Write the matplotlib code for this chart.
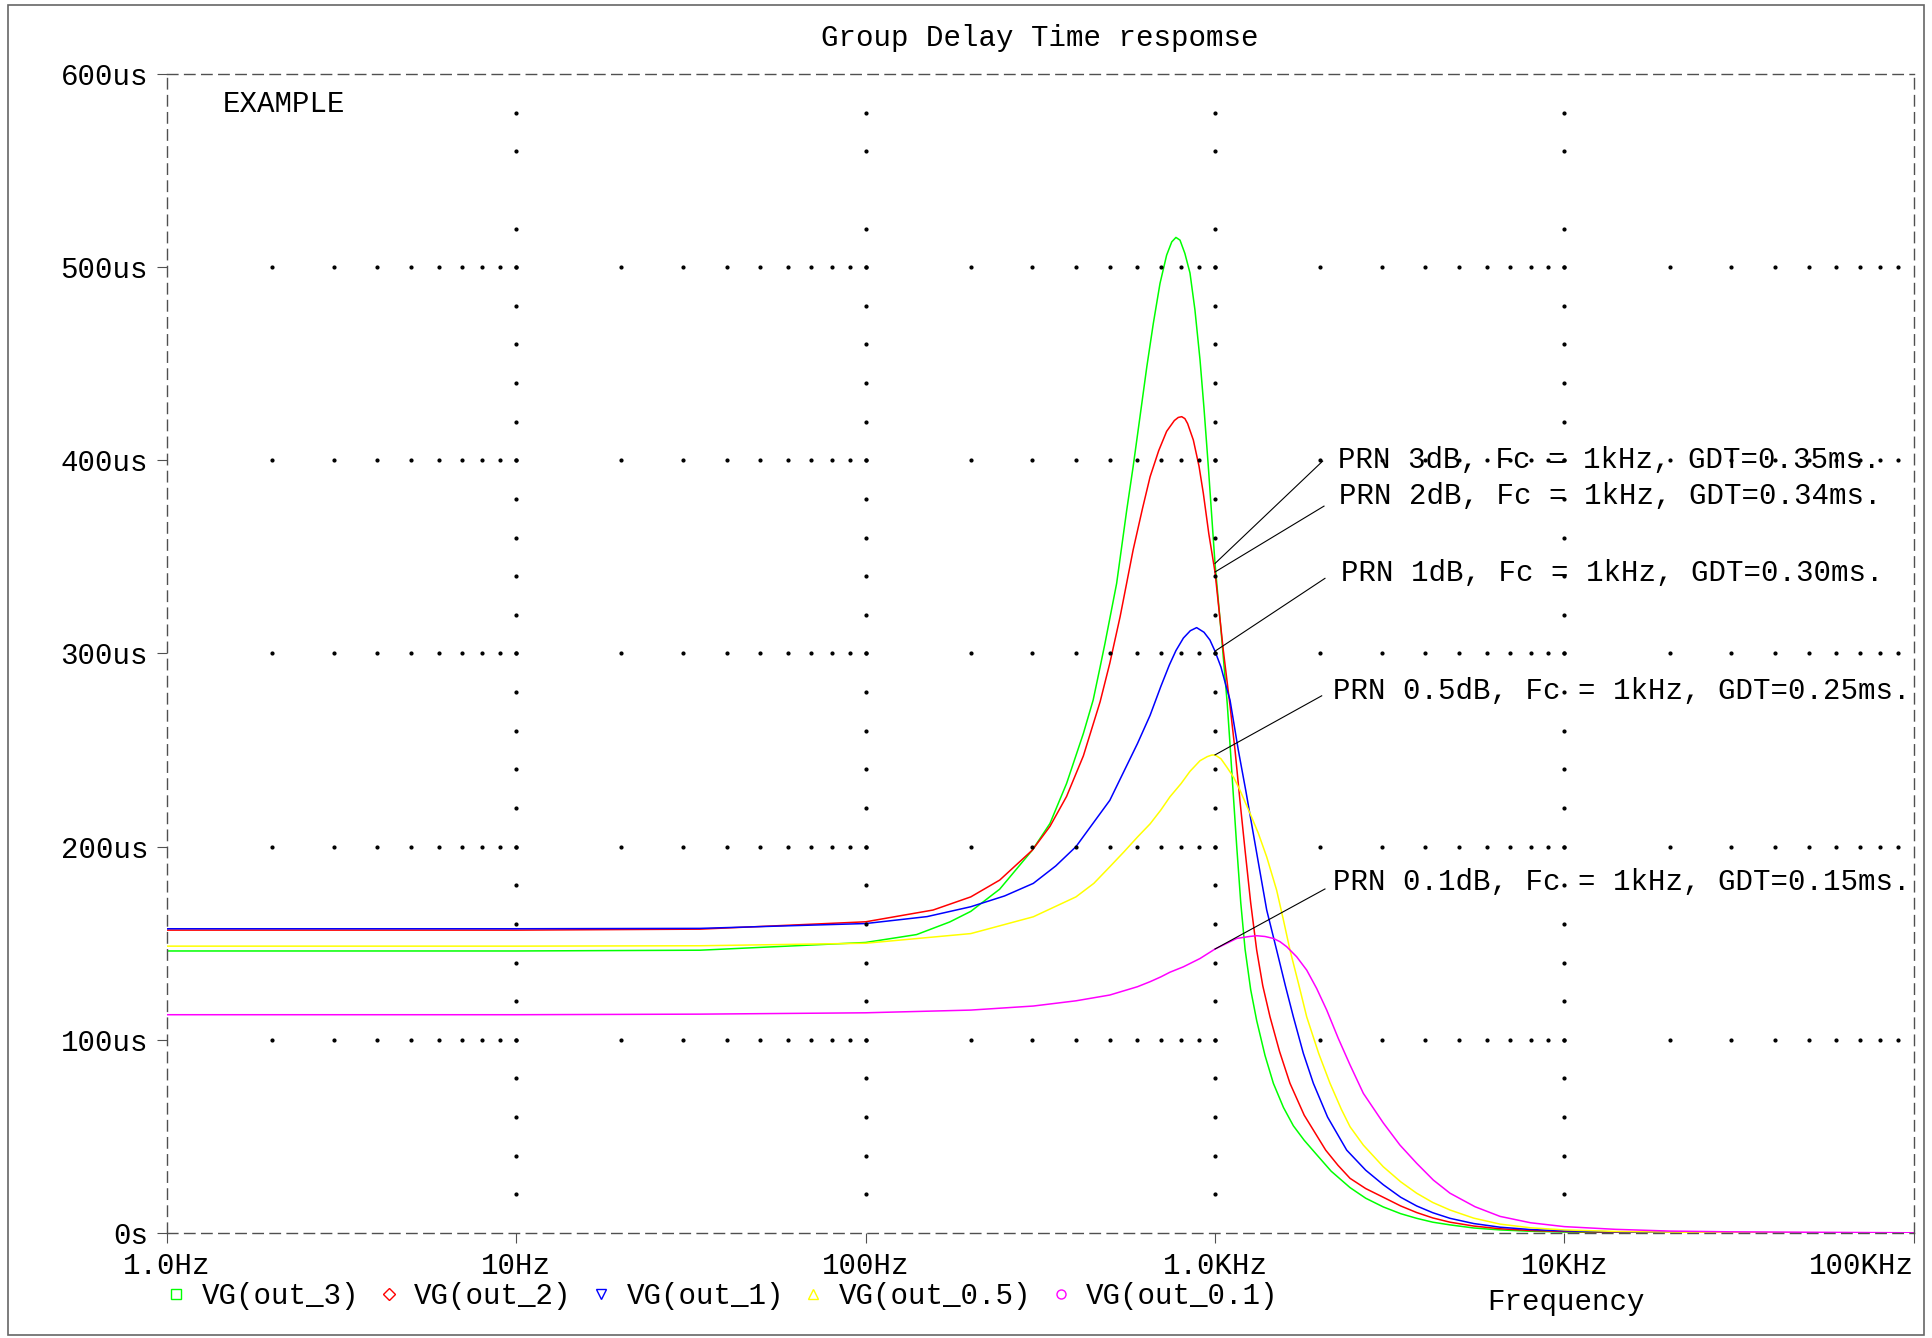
import matplotlib.pyplot as plt
import numpy as np
from matplotlib.lines import Line2D
from matplotlib.patches import Rectangle

plt.rcParams['font.family'] = ['Liberation Mono', 'DejaVu Sans Mono']
plt.rcParams['font.size'] = 21

# group delay of the five filters, frequency in Hz, delay in us
f_3db = [1, 10, 33.6, 100, 140, 174, 200, 242, 300, 337, 376, 420, 448, 469, 484, 523, 559,
         583, 610, 638, 666, 696, 727, 752, 773, 794, 820, 848, 876, 906, 930, 957, 1000,
         1045, 1084, 1104, 1130, 1154, 1185, 1219, 1265, 1316, 1390, 1469, 1570, 1676, 1800,
         1934, 2150, 2435, 2700, 3031, 3400, 3777, 4200, 4705, 5500, 6543, 8000, 10000,
         14000, 20000, 30000, 100000]
gd_3db = [146.0, 146.0, 146.4, 150.4, 154.5, 161.0, 166.5, 178.0, 198.2, 212.0, 232.7, 258.6,
          275.9, 293.0, 305.0, 336.3, 374.3, 396.7, 422.6, 448.4, 470.9, 491.6, 506.2, 513.1,
          515.4, 514.0, 507.1, 497.0, 478.0, 452.0, 427.0, 396.7, 346.6, 308.0, 274.0, 253.0,
          225.0, 200.0, 171.0, 147.0, 126.0, 110.0, 92.0, 77.5, 65.0, 55.5, 48.0, 41.5, 32.0,
          23.5, 18.0, 13.5, 10.0, 7.6, 5.6, 4.2, 2.6, 1.6, 0.9, 0.5, 0.3, 0.2, 0.1, 0.02]

f_2db = [1, 10, 33.6, 100, 156, 200, 242, 300, 337, 376, 420, 469, 500, 535, 583, 620, 652,
         690, 727, 765, 785, 803, 820, 835, 867, 900, 926, 960, 1000, 1056, 1104, 1141, 1180,
         1219, 1265, 1316, 1370, 1437, 1530, 1639, 1800, 2074, 2250, 2435, 2700, 3031, 3400,
         3777, 4200, 4705, 5500, 6543, 8000, 10000, 14000, 20000, 30000, 100000]
gd_2db = [156.8, 156.8, 157.3, 161.1, 167.2, 174.0, 182.7, 198.2, 210.5, 226.0, 247.0, 275.0,
          295.0, 319.0, 353.6, 375.0, 391.5, 405.0, 415.0, 420.6, 422.2, 422.6, 421.6, 419.0,
          410.5, 397.0, 382.9, 362.0, 342.2, 301.8, 273.0, 250.0, 223.0, 198.2, 171.0, 146.5,
          128.0, 111.9, 94.0, 77.5, 61.0, 42.9, 35.0, 28.3, 23.0, 18.5, 14.0, 10.6, 7.8, 5.6,
          3.6, 2.2, 1.3, 0.8, 0.45, 0.25, 0.12, 0.02]

f_1db = [1, 10, 33.6, 100, 150, 200, 250, 302, 350, 400, 500, 600, 652, 700, 740, 773, 812,
         850, 886, 930, 967, 1000, 1040, 1080, 1104, 1166, 1225, 1287, 1345, 1406, 1501, 1590,
         1676, 1790, 1912, 2100, 2382, 2700, 3031, 3400, 3777, 4200, 4705, 5500, 6543, 8000,
         10000, 14000, 20000, 30000, 100000]
gd_1db = [157.5, 157.5, 157.7, 160.2, 163.8, 168.9, 174.5, 181.0, 190.0, 200.0, 224.0, 253.4,
          268.0, 283.0, 294.0, 301.5, 308.0, 311.8, 313.4, 311.0, 307.0, 301.2, 293.0, 282.0,
          275.9, 250.0, 229.0, 206.8, 187.0, 167.2, 146.5, 128.0, 111.9, 93.0, 77.5, 60.0,
          42.9, 32.5, 25.0, 18.5, 14.0, 10.5, 7.6, 4.9, 3.0, 1.8, 1.1, 0.6, 0.35, 0.18, 0.03]

f_05db = [1, 10, 33.6, 100, 200, 302, 400, 450, 500, 550, 600, 652, 700, 743, 800, 848, 906,
          950, 978, 1000, 1040, 1080, 1130, 1179, 1260, 1330, 1406, 1501, 1570, 1639, 1740,
          1830, 1980, 2134, 2300, 2435, 2658, 3031, 3400, 3777, 4200, 4705, 5500, 6543, 8000,
          10000, 14000, 20000, 30000, 100000]
gd_05db = [148.5, 148.5, 148.7, 150.0, 155.0, 163.7, 174.0, 181.0, 189.6, 197.5, 205.0, 211.8,
           219.0, 225.8, 232.7, 239.0, 244.5, 246.6, 247.4, 247.5, 245.5, 241.3, 236.0, 229.2,
           217.2, 207.0, 194.7, 177.5, 162.0, 146.5, 128.0, 111.9, 93.0, 77.5, 64.0, 55.0, 45.5,
           34.3, 26.5, 20.6, 15.8, 11.9, 7.7, 4.6, 2.7, 1.6, 0.8, 0.45, 0.22, 0.03]

f_01db = [1, 10, 33.6, 100, 200, 302, 400, 500, 600, 652, 700, 743, 812, 906, 1000, 1154,
          1255, 1316, 1390, 1469, 1535, 1604, 1713, 1830, 1954, 2088, 2254, 2435, 2658, 3031,
          3384, 3777, 4216, 4705, 5549, 6543, 8000, 10000, 14000, 20000, 30000, 100000]
gd_01db = [113.0, 113.0, 113.3, 114.0, 115.4, 117.5, 120.2, 123.2, 127.5, 130.1, 132.6, 135.0,
           137.8, 142.1, 147.0, 152.5, 153.5, 153.9, 153.5, 152.5, 150.8, 148.2, 143.0, 136.1,
           126.6, 115.4, 100.7, 87.0, 72.3, 57.0, 45.5, 36.1, 27.4, 20.6, 13.6, 8.6, 5.3, 3.3,
           1.9, 1.0, 0.6, 0.1]

traces = ['VG(out_3)', 'VG(out_2)', 'VG(out_1)', 'VG(out_0.5)', 'VG(out_0.1)']
ripples = ['3dB', '2dB', '1dB', '0.5dB', '0.1dB']
xtick_vals = [1, 10, 100, 1000, 10000, 100000]
xtick_labels = ['1.0Hz', '10Hz', '100Hz', '1.0KHz', '10KHz', '100KHz']
ytick_vals = [0, 100, 200, 300, 400, 500, 600]
ytick_labels = ['0s', '100us', '200us', '300us', '400us', '500us', '600us']

colors = ['#00ff00', '#ff0000', '#0000ff', '#ffff00', '#ff00ff']
markers = ['s', 'D', 'v', '^', 'o']

# where the callout text sits (Hz, us) and where its leader line ends
text_pos = [(2243, 400.1), (2269, 381.5), (2290, 341.8), (2172, 280.7), (2172, 181.5)]
lead_end = [(2033, 399.6), (2051, 376.3), (2064, 338.9), (2020, 278.1), (2064, 178.1)]

fig = plt.figure(figsize=(19.33, 13.38), dpi=100)
ax = fig.add_axes([166.8 / 1933, 1 - 1233 / 1338, 1747 / 1933, 1159 / 1338])
ax.set_xscale('log')
ax.set_xlim(1, 1e5)
ax.set_ylim(0, 600)

curves = [(f_3db, gd_3db), (f_2db, gd_2db), (f_1db, gd_1db), (f_05db, gd_05db), (f_01db, gd_01db)]
for (f, gd), c in zip(curves, colors):
    ax.plot(f, gd, color=c, lw=1.1, zorder=2)

# dotted grid: dots every 20us on the decade lines, dots at each minor
# frequency on the 100us lines
dot_x, dot_y = [], []
for d in [10, 100, 1000, 10000]:
    for y in range(20, 600, 20):
        if y == 540:
            continue
        dot_x.append(d)
        dot_y.append(y)
for y in [100, 200, 300, 400, 500]:
    for d in [1, 10, 100, 1000, 10000]:
        for k in range(1, 10):
            if d * k > 1:
                dot_x.append(d * k)
                dot_y.append(y)
ax.plot(dot_x, dot_y, ls='none', marker='o', ms=2.0, color='black', zorder=3.5)

for sp in ax.spines.values():
    sp.set_linestyle((0, (7.5, 4.8)))
    sp.set_color('#505050')
    sp.set_linewidth(1.0)

ax.set_xticks(xtick_vals)
ax.set_xticklabels(xtick_labels)
ax.get_xticklabels()[-1].set_ha('right')
ax.xaxis.set_minor_locator(plt.NullLocator())
ax.set_yticks(ytick_vals)
ax.set_yticklabels(ytick_labels)
ax.tick_params(axis='both', direction='out', length=7, width=0.8, color='#505050', labelsize=21)
ax.tick_params(axis='y', pad=6.5)
ax.tick_params(axis='x', pad=6.5)

ax.set_xlabel('Frequency', fontsize=21, va='center')
ax.xaxis.set_label_coords((1566 - 166.8) / 1747, (1233 - 1302) / 1159)

# callouts at Fc = 1kHz
for (f, gd), r, tp, le in zip(curves, ripples, text_pos, lead_end):
    gdt = gd[f.index(1000)]
    ax.plot([1000, le[0]], [gdt, le[1]], color='black', lw=0.8, zorder=3)
    ax.text(tp[0], tp[1], f'PRN {r}, Fc = 1kHz, GDT={gdt / 1000:.2f}ms.',
            ha='left', va='center', fontsize=21, zorder=3)

fig.text(223 / 1933, 1 - 103.5 / 1338, 'EXAMPLE', va='center', fontsize=21)
fig.text(1040 / 1933, 1 - 38 / 1338, 'Group Delay Time respomse', ha='center', va='center', fontsize=21)

handles = [Line2D([], [], ls='none', marker=m, mfc='none', mec=c, ms=6.5, mew=1.0)
           for m, c in zip(markers, colors)]
fig.legend(handles, traces, loc='center left', bbox_to_anchor=(164.6 / 1933, 1 - 1296 / 1338),
           ncol=5, frameon=False, handlelength=0.8, handletextpad=0.48, columnspacing=0.6,
           borderpad=0, borderaxespad=0, fontsize=21)

fig.add_artist(Rectangle((8 / 1933, 3 / 1338), 1916 / 1933, 1330 / 1338, transform=fig.transFigure,
                         fill=False, ec='#666666', lw=1.2))

fig.savefig('out.png', dpi=100)
